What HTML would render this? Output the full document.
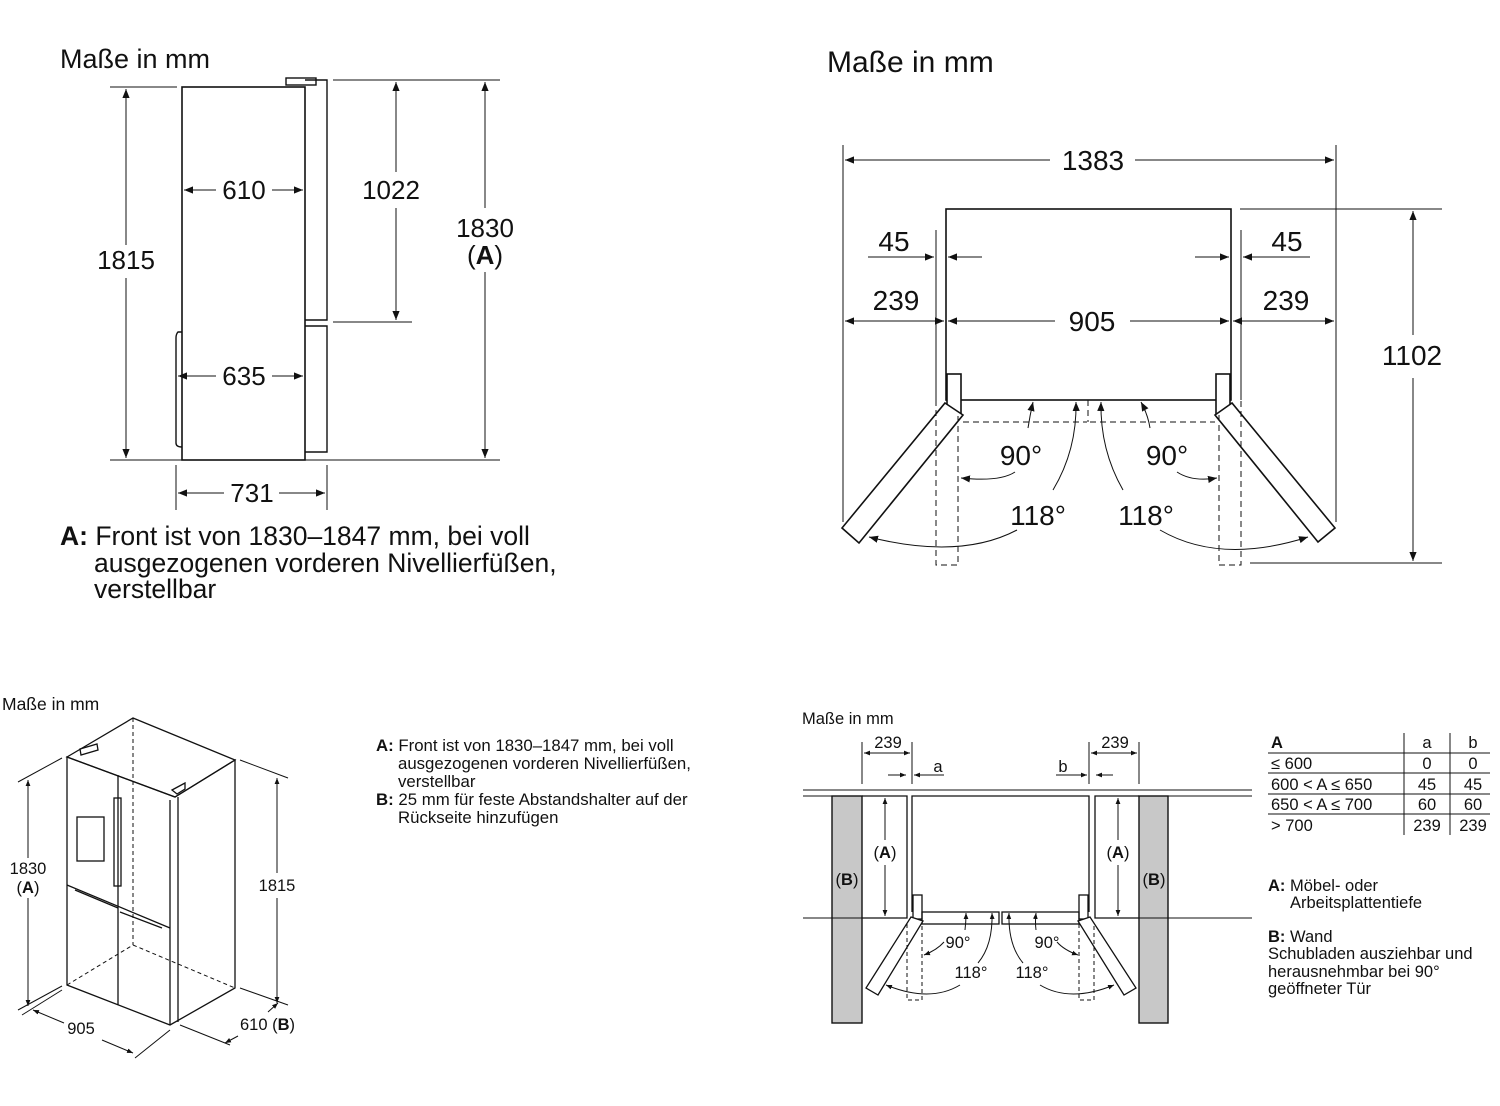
<!DOCTYPE html>
<html><head><meta charset="utf-8"><style>
html,body{margin:0;padding:0;background:#fff;}
svg{display:block;font-family:"Liberation Sans",Arial,sans-serif;}
</style></head><body>
<svg width="1500" height="1106" viewBox="0 0 1500 1106" xmlns="http://www.w3.org/2000/svg">
<defs>
<marker id="a" viewBox="0 0 10 10" refX="10" refY="5" markerWidth="9" markerHeight="9" markerUnits="userSpaceOnUse" orient="auto-start-reverse"><path d="M0,1 L10,5 L0,9z" fill="#111"/></marker>
<marker id="s" viewBox="0 0 10 10" refX="10" refY="5" markerWidth="6" markerHeight="6" markerUnits="userSpaceOnUse" orient="auto-start-reverse"><path d="M0,1 L10,5 L0,9z" fill="#111"/></marker>
</defs>
<g fill="none" stroke="#111" stroke-width="1">
<!-- TOP LEFT -->
<rect x="182" y="87" width="123" height="373" stroke-width="1.6"/>
<path d="M305,80 H327 V320 H305" stroke-width="1.4"/>
<rect x="286" y="78" width="30" height="7" stroke-width="1.4"/>
<path d="M305,326 H327 V452 H305" stroke-width="1.4"/>
<path d="M182,332 H178 Q176,334 176,338 V443 Q176,447 182,447" stroke-width="1.4"/>
<line x1="110" y1="87" x2="177" y2="87"/>
<line x1="110" y1="460" x2="500" y2="460"/>
<line x1="333" y1="80" x2="500" y2="80"/>
<line x1="333" y1="322" x2="412" y2="322"/>
<line x1="176" y1="465" x2="176" y2="510"/>
<line x1="327" y1="465" x2="327" y2="510"/>
<line x1="126" y1="89" x2="126" y2="245" marker-start="url(#a)"/>
<line x1="126" y1="278" x2="126" y2="458" marker-end="url(#a)"/>
<line x1="396" y1="82" x2="396" y2="172" marker-start="url(#a)"/>
<line x1="396" y1="208" x2="396" y2="320" marker-end="url(#a)"/>
<line x1="485" y1="82" x2="485" y2="208" marker-start="url(#a)"/>
<line x1="485" y1="272" x2="485" y2="458" marker-end="url(#a)"/>
<line x1="184" y1="190" x2="216" y2="190" marker-start="url(#a)"/>
<line x1="272" y1="190" x2="303" y2="190" marker-end="url(#a)"/>
<line x1="178" y1="376" x2="216" y2="376" marker-start="url(#a)"/>
<line x1="272" y1="376" x2="303" y2="376" marker-end="url(#a)"/>
<line x1="178" y1="493" x2="224" y2="493" marker-start="url(#a)"/>
<line x1="279" y1="493" x2="325" y2="493" marker-end="url(#a)"/>

<!-- TOP RIGHT -->
<line x1="843" y1="145" x2="843" y2="522"/>
<line x1="1336" y1="145" x2="1336" y2="522"/>
<line x1="845" y1="160" x2="1050" y2="160" marker-start="url(#a)"/>
<line x1="1135" y1="160" x2="1334" y2="160" marker-end="url(#a)"/>
<rect x="946" y="209" width="285" height="191" stroke-width="1.6"/>
<line x1="936" y1="230" x2="936" y2="400"/>
<line x1="1241" y1="230" x2="1241" y2="400"/>
<line x1="868" y1="257" x2="934" y2="257" marker-end="url(#a)"/>
<line x1="982" y1="257" x2="948" y2="257" marker-end="url(#a)"/>
<line x1="1195" y1="257" x2="1229" y2="257" marker-end="url(#a)"/>
<line x1="1310" y1="257" x2="1243" y2="257" marker-end="url(#a)"/>
<line x1="845" y1="321" x2="944" y2="321" marker-start="url(#a)" marker-end="url(#a)"/>
<line x1="948" y1="321" x2="1055" y2="321" marker-start="url(#a)"/>
<line x1="1130" y1="321" x2="1229" y2="321" marker-end="url(#a)"/>
<line x1="1233" y1="321" x2="1334" y2="321" marker-start="url(#a)" marker-end="url(#a)"/>
<line x1="1240" y1="209" x2="1442" y2="209"/>
<line x1="1250" y1="563" x2="1442" y2="563"/>
<line x1="1413" y1="211" x2="1413" y2="335" marker-start="url(#a)"/>
<line x1="1413" y1="378" x2="1413" y2="561" marker-end="url(#a)"/>
<rect x="947" y="374" width="14" height="40" stroke-width="1.6" fill="#fff"/>
<rect x="1216" y="374" width="14" height="40" stroke-width="1.6" fill="#fff"/>
<polygon points="945,403 963,415 859,543 842,528" stroke-width="1.6" fill="#fff"/>
<polygon points="1232,403 1215,415 1318,542 1335,528" stroke-width="1.6" fill="#fff"/>
<g stroke-dasharray="6,4">
<path d="M936,400 V565 H958 V415"/>
<path d="M1219,415 V565 H1241 V400"/>
<line x1="963" y1="422" x2="1087" y2="422"/>
<line x1="1090" y1="422" x2="1215" y2="422"/>
<line x1="1088" y1="400" x2="1088" y2="422"/>
</g>
<path d="M1015,472 Q1000,482 961,478" marker-end="url(#a)"/>
<path d="M1028,428 Q1030,415 1033,402" marker-end="url(#a)"/>
<path d="M1053,490 Q1077,450 1076,402" marker-end="url(#a)"/>
<path d="M1017,530 Q960,560 869,537" marker-end="url(#a)"/>
<path d="M1177,472 Q1192,482 1217,478" marker-end="url(#a)"/>
<path d="M1150,428 Q1148,415 1141,402" marker-end="url(#a)"/>
<path d="M1123,490 Q1100,450 1101,402" marker-end="url(#a)"/>
<path d="M1160,530 Q1220,565 1308,537" marker-end="url(#a)"/>

<!-- BOTTOM LEFT ISO -->
<g stroke-width="1.3">
<polygon points="67,757 133,718 235,760 175,797"/>
<path d="M67,757 L175,797 L235,760 V988 L170,1025 L67,985 Z"/>
<line x1="178" y1="797" x2="178" y2="1022"/>
<line x1="170" y1="800" x2="170" y2="1025"/>
<line x1="118" y1="775" x2="118" y2="1005"/>
<line x1="67" y1="885" x2="170" y2="928"/>
<rect x="77" y="817" width="27" height="44"/>
<rect x="114" y="798" width="7" height="88"/>
<path d="M80,749 L97,744 L98,750 L81,755Z M172,790 L185,783 L185,789 L177,794Z"/>
<path d="M75,890 L118,908 M120,912 L162,928"/>
</g>
<g stroke-dasharray="4,3">
<line x1="133" y1="718" x2="133" y2="945"/>
<line x1="67" y1="985" x2="133" y2="945"/>
<line x1="133" y1="945" x2="235" y2="988"/>
</g>
<line x1="18" y1="782" x2="62" y2="758"/>
<line x1="18" y1="1010" x2="62" y2="986"/>
<line x1="28" y1="780" x2="28" y2="858" marker-start="url(#s)"/>
<line x1="28" y1="898" x2="28" y2="1006" marker-end="url(#s)"/>
<line x1="240" y1="760" x2="288" y2="778"/>
<line x1="240" y1="988" x2="288" y2="1005"/>
<line x1="277" y1="778" x2="277" y2="873" marker-start="url(#s)"/>
<line x1="277" y1="898" x2="277" y2="1003" marker-end="url(#s)"/>
<line x1="170" y1="1030" x2="135" y2="1058"/>
<line x1="62" y1="990" x2="22" y2="1015"/>
<line x1="33" y1="1010" x2="64" y2="1023" marker-start="url(#s)"/>
<line x1="102" y1="1040" x2="133" y2="1053" marker-end="url(#s)"/>
<line x1="180" y1="1025" x2="230" y2="1045"/>
<line x1="225" y1="1043" x2="238" y2="1036" marker-start="url(#s)"/>
<line x1="268" y1="1012" x2="278" y2="1003" marker-end="url(#s)"/>

<!-- BOTTOM RIGHT -->
<line x1="803" y1="790" x2="1252" y2="790"/>
<line x1="803" y1="796" x2="862" y2="796"/>
<line x1="1168" y1="796" x2="1252" y2="796"/>
<line x1="803" y1="918" x2="832" y2="918"/>
<line x1="1168" y1="918" x2="1252" y2="918"/>
<rect x="832" y="796" width="30" height="227" fill="#c8c8c8" stroke-width="1.4"/>
<rect x="1139" y="796" width="29" height="227" fill="#c8c8c8" stroke-width="1.4"/>
<line x1="832" y1="918" x2="862" y2="918"/>
<line x1="1139" y1="918" x2="1168" y2="918"/>
<path d="M862,796 H907 V918 H862" stroke-width="1.3"/>
<path d="M1139,796 H1095 V918 H1139" stroke-width="1.3"/>
<path d="M912,912 V796 H1089 V912" stroke-width="1.3"/>
<rect x="913" y="895" width="9" height="24" fill="#fff" stroke-width="1.3"/>
<rect x="1079" y="895" width="9" height="24" fill="#fff" stroke-width="1.3"/>
<rect x="922" y="912" width="77" height="12" stroke-width="1.3"/>
<rect x="1002" y="912" width="77" height="12" stroke-width="1.3"/>
<polygon points="911,917 923,921 878,995 866,988" fill="#fff" stroke-width="1.3"/>
<polygon points="1090,917 1078,921 1124,995 1136,988" fill="#fff" stroke-width="1.3"/>
<g stroke-dasharray="4,3">
<path d="M907,924 V1000 H922 V924"/>
<path d="M1079,924 V1000 H1094 V924"/>
</g>
<line x1="862" y1="742" x2="862" y2="784"/>
<line x1="912" y1="742" x2="912" y2="784"/>
<line x1="1089" y1="742" x2="1089" y2="784"/>
<line x1="1139" y1="742" x2="1139" y2="784"/>
<line x1="864" y1="753" x2="910" y2="753" marker-start="url(#s)" marker-end="url(#s)"/>
<line x1="1091" y1="753" x2="1137" y2="753" marker-start="url(#s)" marker-end="url(#s)"/>
<line x1="888" y1="775" x2="906" y2="775" marker-end="url(#s)"/>
<line x1="944" y1="775" x2="914" y2="775" marker-end="url(#s)"/>
<line x1="1056" y1="775" x2="1087" y2="775" marker-end="url(#s)"/>
<line x1="1113" y1="775" x2="1096" y2="775" marker-end="url(#s)"/>
<line x1="885" y1="798" x2="885" y2="840" marker-start="url(#s)"/>
<line x1="885" y1="865" x2="885" y2="916" marker-end="url(#s)"/>
<line x1="1118" y1="798" x2="1118" y2="840" marker-start="url(#s)"/>
<line x1="1118" y1="865" x2="1118" y2="916" marker-end="url(#s)"/>
<path d="M944,942 Q937,950 924,955" marker-end="url(#s)"/>
<path d="M965,930 Q966,922 966,913" marker-end="url(#s)"/>
<path d="M978,963 Q993,945 992,913" marker-end="url(#s)"/>
<path d="M960,985 Q930,1003 886,985" marker-end="url(#s)"/>
<path d="M1057,942 Q1064,950 1078,955" marker-end="url(#s)"/>
<path d="M1036,930 Q1035,922 1036,913" marker-end="url(#s)"/>
<path d="M1023,963 Q1008,945 1009,913" marker-end="url(#s)"/>
<path d="M1040,985 Q1070,1003 1114,985" marker-end="url(#s)"/>
<!-- table -->
<line x1="1268" y1="753" x2="1490" y2="753"/>
<line x1="1268" y1="773" x2="1490" y2="773"/>
<line x1="1268" y1="794" x2="1490" y2="794"/>
<line x1="1268" y1="814" x2="1490" y2="814"/>
<line x1="1404" y1="733" x2="1404" y2="835"/>
<line x1="1450" y1="733" x2="1450" y2="835"/>
</g>

<g fill="#111" font-size="24">
<text x="60" y="68" font-size="27">Maße in mm</text>
<text x="126" y="269" text-anchor="middle" font-size="26">1815</text>
<text x="244" y="199" text-anchor="middle" font-size="26">610</text>
<text x="244" y="385" text-anchor="middle" font-size="26">635</text>
<text x="252" y="502" text-anchor="middle" font-size="26">731</text>
<text x="391" y="199" text-anchor="middle" font-size="26">1022</text>
<text x="485" y="237" text-anchor="middle" font-size="26">1830</text>
<text x="485" y="264" text-anchor="middle" font-size="26">(<tspan font-weight="bold">A</tspan>)</text>
<g font-size="26.5">
<text x="60" y="545"><tspan font-weight="bold">A:</tspan> Front ist von 1830–1847 mm, bei voll</text>
<text x="94" y="572">ausgezogenen vorderen Nivellierfüßen,</text>
<text x="94" y="598">verstellbar</text>
</g>

<text x="827" y="72" font-size="30">Maße in mm</text>
<text x="1093" y="170" text-anchor="middle" font-size="28">1383</text>
<text x="894" y="251" text-anchor="middle" font-size="28">45</text>
<text x="1287" y="251" text-anchor="middle" font-size="28">45</text>
<text x="896" y="310" text-anchor="middle" font-size="28">239</text>
<text x="1286" y="310" text-anchor="middle" font-size="28">239</text>
<text x="1092" y="331" text-anchor="middle" font-size="28">905</text>
<text x="1412" y="365" text-anchor="middle" font-size="28">1102</text>
<text x="1021" y="465" text-anchor="middle" font-size="28">90°</text>
<text x="1167" y="465" text-anchor="middle" font-size="28">90°</text>
<text x="1038" y="525" text-anchor="middle" font-size="28">118°</text>
<text x="1146" y="525" text-anchor="middle" font-size="28">118°</text>

<g font-size="16.5">
<text x="2" y="710" font-size="17.5">Maße in mm</text>
<text x="28" y="874" text-anchor="middle">1830</text>
<text x="28" y="893" text-anchor="middle">(<tspan font-weight="bold">A</tspan>)</text>
<text x="277" y="891" text-anchor="middle">1815</text>
<text x="81" y="1034" text-anchor="middle">905</text>
<text x="240" y="1030">610 (<tspan font-weight="bold">B</tspan>)</text>
<g font-size="16.8">
<text x="376" y="751"><tspan font-weight="bold">A:</tspan> Front ist von 1830–1847 mm, bei voll</text>
<text x="398" y="769">ausgezogenen vorderen Nivellierfüßen,</text>
<text x="398" y="787">verstellbar</text>
<text x="376" y="805"><tspan font-weight="bold">B:</tspan> 25 mm für feste Abstandshalter auf der</text>
<text x="398" y="823">Rückseite hinzufügen</text>
</g>
<text x="802" y="724">Maße in mm</text>
<text x="888" y="748" text-anchor="middle">239</text>
<text x="1115" y="748" text-anchor="middle">239</text>
<text x="938" y="772" text-anchor="middle">a</text>
<text x="1063" y="772" text-anchor="middle">b</text>
<text x="885" y="858" text-anchor="middle">(<tspan font-weight="bold">A</tspan>)</text>
<text x="1118" y="858" text-anchor="middle">(<tspan font-weight="bold">A</tspan>)</text>
<text x="847" y="885" text-anchor="middle">(<tspan font-weight="bold">B</tspan>)</text>
<text x="1154" y="885" text-anchor="middle">(<tspan font-weight="bold">B</tspan>)</text>
<text x="958" y="948" text-anchor="middle">90°</text>
<text x="1047" y="948" text-anchor="middle">90°</text>
<text x="971" y="978" text-anchor="middle">118°</text>
<text x="1032" y="978" text-anchor="middle">118°</text>
<text x="1271" y="748" font-weight="bold">A</text>
<text x="1427" y="748" text-anchor="middle">a</text>
<text x="1473" y="748" text-anchor="middle">b</text>
<text x="1271" y="769">≤ 600</text><text x="1427" y="769" text-anchor="middle">0</text><text x="1473" y="769" text-anchor="middle">0</text>
<text x="1271" y="790">600 &lt; A ≤ 650</text><text x="1427" y="790" text-anchor="middle">45</text><text x="1473" y="790" text-anchor="middle">45</text>
<text x="1271" y="810">650 &lt; A ≤ 700</text><text x="1427" y="810" text-anchor="middle">60</text><text x="1473" y="810" text-anchor="middle">60</text>
<text x="1271" y="831">&gt; 700</text><text x="1427" y="831" text-anchor="middle">239</text><text x="1473" y="831" text-anchor="middle">239</text>
<text x="1268" y="891"><tspan font-weight="bold">A:</tspan> Möbel- oder</text>
<text x="1290" y="908">Arbeitsplattentiefe</text>
<text x="1268" y="942"><tspan font-weight="bold">B:</tspan> Wand</text>
<text x="1268" y="959">Schubladen ausziehbar und</text>
<text x="1268" y="977">herausnehmbar bei 90°</text>
<text x="1268" y="994">geöffneter Tür</text>
</g>
</g>
</svg>
</body></html>
